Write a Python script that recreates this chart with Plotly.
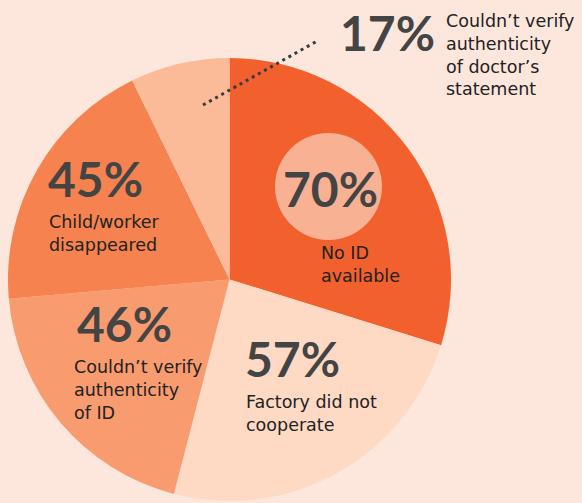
import plotly.graph_objects as go

# ---- data ----
categories = ["No ID available", "Factory did not cooperate", "Couldn't verify authenticity of ID",
              "Child/worker disappeared", "Couldn't verify authenticity of doctor's statement"]
values = [70, 57, 46, 45, 17]
pct_labels = ["70%", "57%", "46%", "45%", "17%"]
desc_labels = ["No ID<br>available", "Factory did not<br>cooperate", "Couldn’t verify<br>authenticity<br>of ID",
               "Child/worker<br>disappeared", "Couldn’t verify<br>authenticity<br>of doctor’s<br>statement"]

# ---- style ----
slice_colors = ["#F2612D", "#FEDAC5", "#F89B6F", "#F5824F", "#FBBA98"]
W, H = 582, 503
BG = "#FDE7DD"
PCT_COLOR = "#444444"
DESC_COLOR = "#222222"
PCT_FONT = "Lato, 'Noto Sans', sans-serif"
DESC_FONT = "'DejaVu Sans', sans-serif"

# label placement in pixels (x, y) : percent label centre-left, description block centre-left
pct_pos = [(281, 188), (243, 358), (75, 323), (46, 178), (338, 32)]
desc_pos = [(319, 264), (244, 413), (72, 390), (47, 233), (444, 55)]


def px(x):
    return x / W


def py(y):
    return 1 - y / H


fig = go.Figure(go.Pie(
    labels=categories,
    values=values,
    sort=False,
    direction="clockwise",
    rotation=0,
    marker=dict(colors=slice_colors, line=dict(width=0)),
    textinfo="none",
    hoverinfo="label+value",
    showlegend=False,
    domain=dict(x=[px(8), px(451)], y=[1 - 501 / H, 1 - 58 / H]),
))

# circle behind 70%
fig.add_shape(type="circle", xref="paper", yref="paper",
              x0=px(275), x1=px(382), y0=py(240), y1=py(133),
              fillcolor="#F8B193", line=dict(width=0), layer="above")

# dotted leader line for 17%
fig.add_shape(type="line", xref="paper", yref="paper",
              x0=px(203), y0=py(105), x1=px(319), y1=py(40),
              line=dict(color="#3a3a3a", width=3, dash="3px,4px"), layer="above")

for i in range(len(values)):
    x, y = pct_pos[i]
    fig.add_annotation(x=px(x), y=py(y), xref="paper", yref="paper",
                       text="<b>" + pct_labels[i] + "</b>", showarrow=False,
                       xanchor="left", yanchor="middle",
                       font=dict(family=PCT_FONT, size=48, color=PCT_COLOR))
    x, y = desc_pos[i]
    fig.add_annotation(x=px(x), y=py(y), xref="paper", yref="paper",
                       text=desc_labels[i], showarrow=False,
                       xanchor="left", yanchor="middle", align="left",
                       font=dict(family=DESC_FONT, size=17.5, color=DESC_COLOR))

fig.update_layout(width=W, height=H, margin=dict(l=0, r=0, t=0, b=0),
                  paper_bgcolor=BG, plot_bgcolor=BG)

fig.write_html("out.html", config={"displayModeBar": False},
               post_script="document.body.style.margin='0';document.body.style.overflow='hidden';")
